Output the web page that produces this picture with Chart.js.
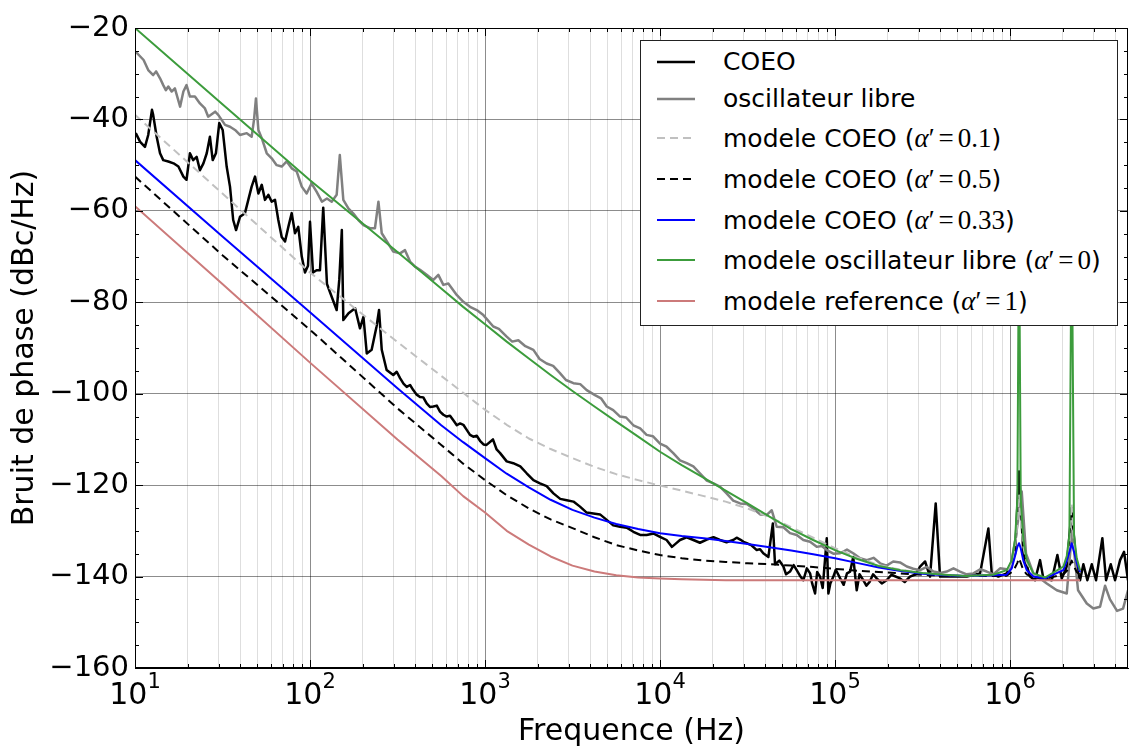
<!DOCTYPE html>
<html>
<head>
<meta charset="utf-8">
<script src="https://cdn.jsdelivr.net/npm/chart.js@4.4.1/dist/chart.umd.min.js"></script>
<style>
  html, body { margin: 0; padding: 0; background: #fff; }
  #wrap { position: relative; width: 1130px; height: 747px; }
  #legend {
    position: absolute; left: 640px; top: 40px; width: 476px; height: 284px;
    border: 1px solid #222; background: #fff;
    font-family: 'DejaVu Sans', sans-serif; font-size: 25px; color: #000;
  }
  .row { position: absolute; left: 0; height: 30px; line-height: 30px; white-space: nowrap; }
  .row svg { position: absolute; left: 16px; top: 12px; }
  .row .t { position: absolute; left: 82px; top: 0; }
  .m { font-family: 'Liberation Serif', 'DejaVu Serif', serif; font-size: 27px; }
  .m i { font-style: italic; }
  .eq { margin: 0 4px; }
</style>
</head>
<body>
<div id="wrap">
  <canvas id="chart" width="1130" height="747"></canvas>
  <div id="legend">
    <div class="row" style="top:6px"><svg width="38" height="6"><line x1="0" y1="3" x2="38" y2="3" stroke="#000" stroke-width="2.5"/></svg><span class="t">COEO</span></div>
    <div class="row" style="top:43px"><svg width="38" height="6"><line x1="0" y1="3" x2="38" y2="3" stroke="#808080" stroke-width="2.5"/></svg><span class="t">oscillateur libre</span></div>
    <div class="row" style="top:82px"><svg width="38" height="6"><line x1="0" y1="3" x2="38" y2="3" stroke="#c0c0c0" stroke-width="2" stroke-dasharray="8 5"/></svg><span class="t">modele COEO (<span class="m"><i>α</i>′<span class="eq">=</span>0.1</span>)</span></div>
    <div class="row" style="top:123px"><svg width="38" height="6"><line x1="0" y1="3" x2="38" y2="3" stroke="#000" stroke-width="2" stroke-dasharray="8 5"/></svg><span class="t">modele COEO (<span class="m"><i>α</i>′<span class="eq">=</span>0.5</span>)</span></div>
    <div class="row" style="top:164px"><svg width="38" height="6"><line x1="0" y1="3" x2="38" y2="3" stroke="#0000ff" stroke-width="2"/></svg><span class="t">modele COEO (<span class="m"><i>α</i>′<span class="eq">=</span>0.33</span>)</span></div>
    <div class="row" style="top:204px"><svg width="38" height="6"><line x1="0" y1="3" x2="38" y2="3" stroke="#3c9c3c" stroke-width="2"/></svg><span class="t">modele oscillateur libre (<span class="m"><i>α</i>′<span class="eq">=</span>0</span>)</span></div>
    <div class="row" style="top:245px"><svg width="38" height="6"><line x1="0" y1="3" x2="38" y2="3" stroke="#cc7a7a" stroke-width="2"/></svg><span class="t">modele reference (<span class="m"><i>α</i>′<span class="eq">=</span>1</span>)</span></div>
  </div>
</div>
<script>
// axes
const xMin = 10;
const xMax = 4.72e6;
const yMin = -160;
const yMax = -20;
const decades = [10, 100, 1000, 1e4, 1e5, 1e6];
const decadeExp = ['1', '2', '3', '4', '5', '6'];

// mesure COEO
const coeoFreq = [10.1, 10.7, 11.4, 11.9, 12.5, 12.7, 13.3, 13.9, 14.5, 15.5, 16.6, 17.7, 18.9, 19.7,
  20.6, 21.5, 22.5, 23.5, 24.6, 25.7, 26.8, 27.8, 29.0, 30.3, 31.7, 33.4, 34.9, 36.4, 37.8, 39.8,
  42.5, 44.4, 46.4, 48.5, 50.7, 53.0, 55.3, 57.8, 60.4, 63.1, 65.9, 68.9, 72.0, 75.2, 78.6, 82.1,
  85.7, 89.7, 93.6, 97.4, 100, 104, 109, 114, 119, 125, 133, 142, 147, 152, 155, 166, 181, 193,
  202, 211, 225, 240, 248, 257, 274, 299, 313, 327, 342, 357, 373, 389, 407, 425, 444, 464, 485,
  507, 530, 553, 578, 604, 631, 659, 690, 720, 752, 786, 821, 857, 897, 936, 980, 1020, 1110,
  1165, 1220, 1330, 1450, 1590, 1730, 1890, 2060, 2250, 2460, 2690, 2930, 3200, 3490, 3810, 4160,
  4540, 4960, 5400, 5910, 6450, 7040, 7700, 8380, 9200, 10000, 10900, 11700, 12300, 13000, 14200,
  15500, 16900, 18500, 20200, 22000, 24000, 26200, 27400, 28700, 30000, 31300, 33400, 35700, 37300,
  38900, 41600, 44100, 45400, 48000, 50700, 52500, 55300, 58000, 60400, 63000, 65900, 69000, 72000,
  74000, 76900, 79000, 82100, 85000, 89700, 91600, 94000, 97800, 101000, 107000, 112000, 117000,
  122000, 127000, 133000, 138000, 145000, 151000, 158000, 165000, 173000, 185000, 197000, 210000,
  235000, 250000, 268000, 290000, 306000, 327000, 349000, 376000, 398000, 474000, 566000, 674000,
  752000, 786000, 857000, 957000, 1068000, 1126000, 1191000, 1301000, 1389000, 1484000, 1550000,
  1731000, 1864000, 1974000, 2109000, 2253000, 2383000, 2512000, 2624000, 2765000, 2931000,
  3100000, 3368000, 3537000, 3762000, 3981000, 4253000, 4482000, 4720000];
const coeoDb = [-43, -44.9, -46, -43.4, -37.9, -39, -43.8, -47.4, -48.9, -49.2, -49.6, -50.3, -52.5, -53.2,
  -47.4, -48.9, -48.2, -51.1, -49.6, -47.4, -43.8, -48.9, -47.4, -40.8, -42.3, -50.3, -54.7, -62, -64.2, -61.3,
  -60.5, -57.6, -54.7, -52.5, -56.2, -54.3, -57.6, -56.5, -58, -57.6, -62, -65.7, -66.7, -63.5, -60.5, -64.9,
  -63.5, -70, -73.5, -72, -62.4, -73.5, -73, -73, -59.3, -76, -78.8, -81.7, -75, -64.2, -83.9, -82.4, -81.3, -85.7,
  -83.2, -91.2, -90.4, -85.3, -81.7, -90.4, -94.8, -95.9, -95.2, -96.6, -97.8, -98.5, -98.1, -99.2, -100.2, -100.7, -100.8, -102.1, -102.9,
  -102.8, -102.6, -103.9, -104.6, -105, -104.8, -105.8, -106.9, -106.5, -106.8, -107.9, -109.0, -109.4, -109.2, -110.3, -111.1, -111.2, -110,
  -112.2, -113, -114.8, -115.2, -115.9, -117.4, -118.9, -119.6, -120.2, -121.8, -123.0, -123.3, -123.6, -124.7, -126, -126.2,
  -126.4, -127.6, -128.8, -129.1, -129.3, -130.2, -130.9, -130.9, -130.6, -131.3, -132, -133.5, -132.8, -132, -131.4,
  -132, -132.6, -131.9, -131.4, -132, -132.5, -132, -131.5, -131.9, -132.4, -132.7, -133.2, -134.2, -134.0,
  -134.9, -135.7, -128.4, -137.3, -136.5, -137.8, -139.5, -138.9, -137.5, -138.6, -139.8, -140.8, -138.2, -139.3,
  -141.5, -143.7, -139, -140, -142.5, -131.6, -143.7, -141.5, -140, -138.5, -140.4, -141.8, -139.3,
  -138.9, -135.7, -143, -139.5, -140.8, -142, -141.1, -139.5, -140.4, -141.5, -140.8, -139.6,
  -140.4, -141.2, -140, -139.5, -137.8, -136.7, -140, -124, -140, -140, -140, -139.3,
  -129.5, -139.3, -140, -139.3, -135, -117, -135, -140, -140.8, -136.4, -140.4,
  -140.8, -135.3, -140.4, -137.8, -125, -137.3, -140.8, -137.3, -140.8, -137.3,
  -140.8, -131.6, -140.8, -137.3, -140.8, -136.4, -134.6, -140.8];

// mesure oscillateur libre
const libreFreq = [10.1, 11.2, 11.9, 12.7, 13.2, 13.9, 14.5, 15.0, 15.5, 16.2, 16.9, 18.1, 18.9, 19.7,
  20.6, 22.0, 23.5, 25.1, 26.2, 28.7, 29.9, 32.7, 34.9, 37.3, 39.8, 43.5, 46.4, 47.9, 49.1, 50.7,
  53.0, 56.6, 60.4, 64.5, 68.9, 73.6, 78.6, 84.0, 89.7, 95.7, 102, 109, 117, 125, 133, 142, 145,
  148, 155, 166, 177, 189, 202, 220, 235, 246, 257, 274, 299, 327, 349, 373, 398, 425, 464, 507,
  541, 578, 617, 689, 752, 821, 897, 978, 1115, 1200, 1330, 1430, 1550, 1700, 1890, 2050, 2250,
  2450, 2680, 2900, 3200, 3500, 3810, 4250, 4600, 4960, 5400, 5910, 6400, 7040, 7700, 8380, 9100,
  10000, 10900, 11900, 13000, 14200, 15500, 16900, 18500, 20200, 22000, 24000, 26200, 28700,
  31300, 34100, 37300, 40700, 43500, 46400, 50700, 55300, 60400, 65900, 72000, 78600, 84000,
  89700, 97800, 107000, 117000, 127000, 139000, 152000, 166000, 181000, 197000, 215000, 235000,
  257000, 280000, 306000, 335000, 365000, 400000, 435000, 475000, 518000, 565000, 617000, 675000,
  736000, 805000, 877000, 1000000, 1082000, 1166000, 1234000, 1359000, 1621000, 1849000, 2109000,
  2261000, 2447000, 2744000, 2992000, 3268000, 3490000, 3724000, 4087000, 4423000, 4720000];
const libreDb = [-25.2, -27, -29.2, -30.3, -29.5, -31, -32.5, -33.6, -32.8, -33.9, -33.2, -37.2, -33.9, -32.5,
  -35, -35, -36.5, -37.6, -39.4, -38.3, -39, -41.2, -41.6, -42.3, -43.4, -43, -43.8, -40, -35.4, -42.3,
  -44.1, -47.4, -48.5, -50, -50.3, -49.2, -50.7, -51.4, -54.7, -56.2, -54, -55.8, -58, -57.3, -58, -56.5, -52,
  -47.8, -57.6, -59.5, -60.6, -62, -63.1, -63.8, -63.8, -58, -64.9, -66.6, -68.9, -69.3, -68.6, -71.1, -72.2, -72.9, -74, -75.1,
  -74, -76.2, -75.9, -78.4, -79.9, -81, -81.7, -82.8, -85.3, -85.8, -87.5, -88.6, -88.3, -89.6, -90.4, -92.4, -93.4,
  -93.9, -95.5, -97.0, -97.7, -97.9, -99.2, -100.3, -101.0, -102.8, -103.6, -105, -105.2, -106.9, -107.6, -109, -109.3,
  -110.9, -111.6, -113, -114.6, -115.2, -115.9, -117.4, -119.0, -119.6, -120.3, -121.8, -123.4, -124,
  -124.1, -125.1, -126.4, -126.5, -125.5, -129.1, -129.2, -130.5, -130.9, -132, -132.4, -133.5, -133.3,
  -134.2, -135.0, -134.9, -134.1, -134.9, -136.0, -136.4, -135.9, -137.1, -137.6, -136.7, -136.9,
  -137.8, -138.3, -138.6, -137.9, -138.9, -139.2, -138.9, -138.2, -138.9, -139.5, -139.3, -138.4,
  -138.9, -139.5, -138.2, -138.5, -131, -121.4, -135, -139.3, -141.5, -143, -143.7,
  -130, -143, -145.9, -147, -146.6, -142, -145, -147.5, -147, -143];

// modeles (meme grille de frequences)
const modelFreq = [10, 31.6, 100, 316, 562, 750, 1000, 1330, 1780, 2370, 3160, 4220, 5620, 7500,
  1e4, 1.33e4, 1.78e4, 2.37e4, 3.16e4, 4.22e4, 5.62e4, 7.5e4, 1e5, 1.33e5, 1.78e5, 2.37e5, 3.16e5,
  4.22e5, 5.62e5, 8e5, 9.57e5, 1.023e6, 1.068e6, 1.101e6, 1.125e6, 1.151e6, 1.191e6, 1.246e6,
  1.359e6, 1.585e6, 2.017e6, 2.109e6, 2.183e6, 2.25e6, 2.321e6, 2.405e6, 2.512e6];
const model01Db = [-39, -56.2, -73.5, -88.7, -96.1, -99.8, -103.5, -106.8, -109.8, -112.1, -114.1, -116, -117.6, -118.9,
  -120.1, -121.2, -122.4, -123.6, -125.1, -127, -129.2, -131.5, -133.8, -135.8, -137.5, -138.5, -139.2,
  -139.6, -139.9, -139.6, -138.8, -137, -133.5, -128, -122, -128, -133.5, -137,
  -139.5, -140.3, -138.2, -136.5, -133, -124, -133, -136.8, -138.8];
const model05Db = [-52.5, -69.7, -86, -103.2, -111.2, -115.3, -118.9, -122.2, -125.1, -127.5, -129.4, -131.4, -133.1, -134.3,
  -135.3, -136, -136.5, -136.8, -137.1, -137.3, -137.6, -137.9, -138.3, -138.7, -139, -139.3, -139.6,
  -139.8, -139.9, -139.9, -139.8, -139, -138, -137, -136, -137, -138.6, -139.5,
  -140.2, -140.5, -139.5, -138.8, -137.8, -136.5, -137.8, -139, -139.6];
const model033Db = [-48.9, -65.6, -82.2, -98.8, -106.9, -110.6, -114.1, -117.5, -120.5, -123.2, -125.4, -127.1, -128.5, -129.6,
  -130.5, -131.1, -131.6, -132.2, -132.9, -133.6, -134.3, -135.1, -136, -137, -138, -138.8, -139.4,
  -139.7, -139.9, -139.7, -139.6, -138.2, -135.5, -133.5, -132.7, -133.8, -136.5, -138.6,
  -140, -140.4, -138.6, -136.5, -134.6, -132.7, -134.6, -137, -139];
const modelLibreDb = [-20, -36.7, -53.3, -69, -77, -81, -84.8, -88.6, -92.3, -95.9, -99.4, -102.8, -106.1, -109.4,
  -112.7, -115.6, -118.4, -121.2, -124, -126.9, -129.6, -132, -134.2, -136.1, -137.7, -138.6, -139.2,
  -139.6, -139.9, -139.6, -138.6, -136.4, -132, -123, -60, -123, -132, -136.4,
  -139.3, -140.2, -137.8, -135.5, -131, -60, -131, -136, -138.6];
const modelRefDb = [-59, -76, -93.2, -110, -118, -122.4, -126, -130, -133, -135.6, -137.6, -138.9, -139.7, -140.2,
  -140.4, -140.6, -140.7, -140.8, -140.8, -140.8, -140.8, -140.8, -140.8, -140.8, -140.8, -140.8, -140.8,
  -140.8, -140.8, -140.8, -140.8, -140.8, -140.8, -140.8, -140.8, -140.8, -140.8, -140.8,
  -140.8, -140.8, -140.8, -140.8, -140.8, -140.8, -140.8, -140.8, -140.8];

const FONT = "'DejaVu Sans', sans-serif";

function pts(fs, vs) {
  return fs.map((f, i) => ({ x: f, y: vs[i] }));
}

function isDecade(v) {
  const l = Math.log10(v);
  return Math.abs(l - Math.round(l)) < 1e-9;
}

// graduations internes + cadre
const innerTicks = {
  id: 'innerTicks',
  afterDraw(chart) {
    const { ctx, chartArea: a, scales: { x, y } } = chart;
    ctx.save();
    ctx.strokeStyle = '#000';
    ctx.lineWidth = 1;
    ctx.beginPath();
    y.ticks.forEach(t => {
      const py = Math.round(y.getPixelForValue(t.value)) + 0.5;
      const len = t.value % 20 === 0 ? 8 : 4;
      ctx.moveTo(a.left, py); ctx.lineTo(a.left + len, py);
      ctx.moveTo(a.right, py); ctx.lineTo(a.right - len, py);
    });
    x.ticks.forEach(t => {
      const px = Math.round(x.getPixelForValue(t.value)) + 0.5;
      const len = isDecade(t.value) ? 8 : 4;
      ctx.moveTo(px, a.bottom); ctx.lineTo(px, a.bottom - len);
      ctx.moveTo(px, a.top); ctx.lineTo(px, a.top + len);
    });
    ctx.stroke();
    ctx.strokeRect(a.left + 0.5, a.top + 0.5, a.right - a.left - 1, a.bottom - a.top - 1);
    ctx.restore();
  }
};

// etiquettes 10^n
const expLabels = {
  id: 'expLabels',
  afterDraw(chart) {
    const { ctx, chartArea: a, scales: { x } } = chart;
    ctx.save();
    ctx.fillStyle = '#000';
    ctx.textAlign = 'left';
    ctx.textBaseline = 'alphabetic';
    decades.forEach((d, i) => {
      const px = x.getPixelForValue(d);
      ctx.font = '30px ' + FONT;
      const w1 = ctx.measureText('10').width;
      ctx.font = '21px ' + FONT;
      const w2 = ctx.measureText(decadeExp[i]).width;
      const left = px - (w1 + w2) / 2;
      ctx.font = '30px ' + FONT;
      ctx.fillText('10', left, a.bottom + 36);
      ctx.font = '21px ' + FONT;
      ctx.fillText(decadeExp[i], left + w1, a.bottom + 20);
    });
    ctx.restore();
  }
};

const datasets = [
  { label: 'COEO', data: pts(coeoFreq, coeoDb), borderColor: '#000000', borderWidth: 2.5 },
  { label: 'oscillateur libre', data: pts(libreFreq, libreDb), borderColor: '#808080', borderWidth: 2.5 },
  { label: "modele COEO (α'=0.1)", data: pts(modelFreq, model01Db), borderColor: '#c0c0c0', borderWidth: 2, borderDash: [8, 5] },
  { label: "modele COEO (α'=0.5)", data: pts(modelFreq, model05Db), borderColor: '#000000', borderWidth: 2, borderDash: [8, 5] },
  { label: "modele COEO (α'=0.33)", data: pts(modelFreq, model033Db), borderColor: '#0000ff', borderWidth: 2 },
  { label: "modele oscillateur libre (α'=0)", data: pts(modelFreq, modelLibreDb), borderColor: '#3c9c3c', borderWidth: 2 },
  { label: "modele reference (α'=1)", data: pts(modelFreq, modelRefDb), borderColor: '#cc7a7a', borderWidth: 2 }
].map((d, i, arr) => Object.assign(d, {
  order: arr.length - 1 - i,
  pointRadius: 0,
  tension: 0,
  fill: false,
  borderJoinStyle: 'round'
}));

new Chart(document.getElementById('chart'), {
  type: 'line',
  data: { datasets },
  plugins: [innerTicks, expLabels],
  options: {
    responsive: false,
    animation: false,
    events: [],
    layout: { padding: { top: 28, right: 2, left: 0, bottom: 0 } },
    plugins: { legend: { display: false }, tooltip: { enabled: false } },
    scales: {
      x: {
        type: 'logarithmic',
        min: xMin,
        max: xMax,
        afterBuildTicks: s => {
          const t = [];
          decades.forEach(d => {
            for (let m = 1; m < 10; m++) {
              if (m * d <= xMax) t.push({ value: m * d });
            }
          });
          s.ticks = t;
        },
        afterFit: s => { s.height = 79; },
        ticks: { display: false, autoSkip: false },
        grid: {
          drawTicks: false,
          color: c => (c.tick && isDecade(c.tick.value)) ? 'rgba(0,0,0,0.45)' : 'rgba(0,0,0,0.13)',
          lineWidth: 1
        },
        border: { display: true, color: '#000' },
        title: {
          display: true,
          text: 'Frequence (Hz)',
          color: '#000',
          font: { family: FONT, size: 30, lineHeight: 1.0 },
          padding: { top: 0, bottom: 0 }
        }
      },
      y: {
        type: 'linear',
        min: yMin,
        max: yMax,
        afterFit: s => { s.width = 135; },
        ticks: {
          stepSize: 5,
          autoSkip: false,
          color: '#000',
          padding: 6,
          font: { family: FONT, size: 29 },
          callback: v => (v % 20 === 0 ? '\u2212' + Math.abs(v) : '')
        },
        grid: {
          drawTicks: false,
          color: c => (c.tick && c.tick.value % 20 === 0) ? 'rgba(0,0,0,0.45)' : 'rgba(0,0,0,0)',
          lineWidth: 1
        },
        border: { display: true, color: '#000' },
        title: {
          display: true,
          text: 'Bruit de phase (dBc/Hz)',
          color: '#000',
          font: { family: FONT, size: 30, lineHeight: 1.0 },
          padding: { top: 10, bottom: 0 }
        }
      }
    }
  }
});
</script>
</body>
</html>
